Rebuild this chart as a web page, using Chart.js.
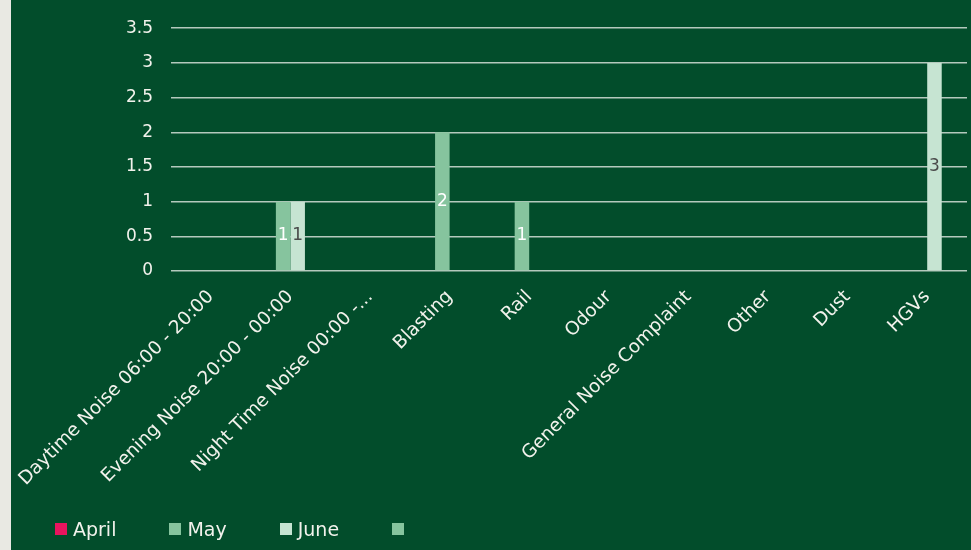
<!DOCTYPE html>
<html>
<head>
<meta charset="utf-8">
<script src="https://cdn.jsdelivr.net/npm/chart.js@4"></script>
<style>
  html, body { margin: 0; padding: 0; background: #e9e9e3; }
  #wrap { position: absolute; left: 11px; top: 0; width: 960px; height: 550px; background: #024d2b; }
  #legend { position: absolute; left: 44px; top: 518px; display: flex; align-items: center;
            font-family: "DejaVu Sans", sans-serif; font-size: 19px; color: #f2f2ec; }
  .item { display: flex; align-items: center; margin-right: 53px; }
  .box { width: 12px; height: 12px; margin-right: 6px; }
</style>
</head>
<body>
<div id="wrap">
  <canvas id="grafico" width="960" height="550"></canvas>
  <div id="legend"></div>
</div>
<script>
const categorias = [
  'Daytime Noise 06:00 - 20:00',
  'Evening Noise 20:00 - 00:00',
  'Night Time Noise 00:00 -...',
  'Blasting',
  'Rail',
  'Odour',
  'General Noise Complaint',
  'Other',
  'Dust',
  'HGVs'
];
const abril = [null, null, null, null, null, null, null, null, null, null];
const mayo  = [null, 1, null, 2, 1, null, null, null, null, null];
const junio = [null, 1, null, null, null, null, null, null, null, 3];
const otro  = [null, null, null, null, null, null, null, null, null, null];
const nombresSeries = ['April', 'May', 'June', ''];
const coloresSeries = ['#e8145e', '#86c49e', '#c6e4d2', '#86c49e'];
const coloresEtiqueta = ['#ffffff', '#ffffff', '#4a4a4a', '#ffffff'];
const ticksY = [0, 0.5, 1, 1.5, 2, 2.5, 3, 3.5];

const series = [abril, mayo, junio, otro];
const fuente = '"DejaVu Sans", sans-serif';

// etiquetas de valor en el centro de cada barra
const etiquetasBarras = {
  id: 'etiquetasBarras',
  afterDatasetsDraw(chart) {
    const ctx = chart.ctx;
    ctx.save();
    ctx.font = '17px ' + fuente;
    ctx.textAlign = 'center';
    ctx.textBaseline = 'middle';
    chart.data.datasets.forEach((ds, i) => {
      const meta = chart.getDatasetMeta(i);
      meta.data.forEach((bar, j) => {
        const v = ds.data[j];
        if (v == null) return;
        ctx.fillStyle = coloresEtiqueta[i];
        ctx.fillText(String(v), bar.x, (bar.y + bar.base) / 2);
      });
    });
    ctx.restore();
  }
};

const chart = new Chart(document.getElementById('grafico'), {
  type: 'bar',
  data: {
    labels: categorias,
    datasets: series.map((d, i) => ({
      label: nombresSeries[i],
      data: d,
      backgroundColor: coloresSeries[i],
      borderWidth: 0,
      categoryPercentage: 0.73,
      barPercentage: 1
    }))
  },
  options: {
    responsive: false,
    animation: false,
    layout: { padding: { top: 25, right: 4, bottom: 0, left: 0 } },
    plugins: {
      legend: { display: false },
      tooltip: { enabled: false }
    },
    scales: {
      x: {
        grid: { display: false, drawTicks: false },
        border: { display: false },
        ticks: {
          color: '#f2f2ec',
          font: { family: fuente, size: 18.5 },
          minRotation: 45,
          maxRotation: 45,
          autoSkip: false,
          padding: 15
        },
        afterFit(scale) {
          scale.height = 279;
          scale.paddingLeft = 0;
          scale.paddingRight = 0;
        }
      },
      y: {
        min: 0,
        max: 3.5,
        afterBuildTicks(scale) { scale.ticks = ticksY.map(v => ({ value: v })); },
        grid: { color: 'rgba(225,232,226,0.8)', lineWidth: 1.5, drawTicks: false },
        border: { display: false },
        ticks: {
          color: '#f2f2ec',
          font: { family: fuente, size: 17 },
          padding: 18,
          callback: (v) => String(v)
        },
        afterFit(scale) { scale.width = 160; }
      }
    }
  },
  plugins: [etiquetasBarras]
});

// leyenda en HTML
const leyenda = document.getElementById('legend');
nombresSeries.forEach((nombre, i) => {
  const item = document.createElement('div');
  item.className = 'item';
  item.innerHTML = `<span class="box" style="background:${coloresSeries[i]}"></span><span>${nombre}</span>`;
  leyenda.appendChild(item);
});
</script>
</body>
</html>
